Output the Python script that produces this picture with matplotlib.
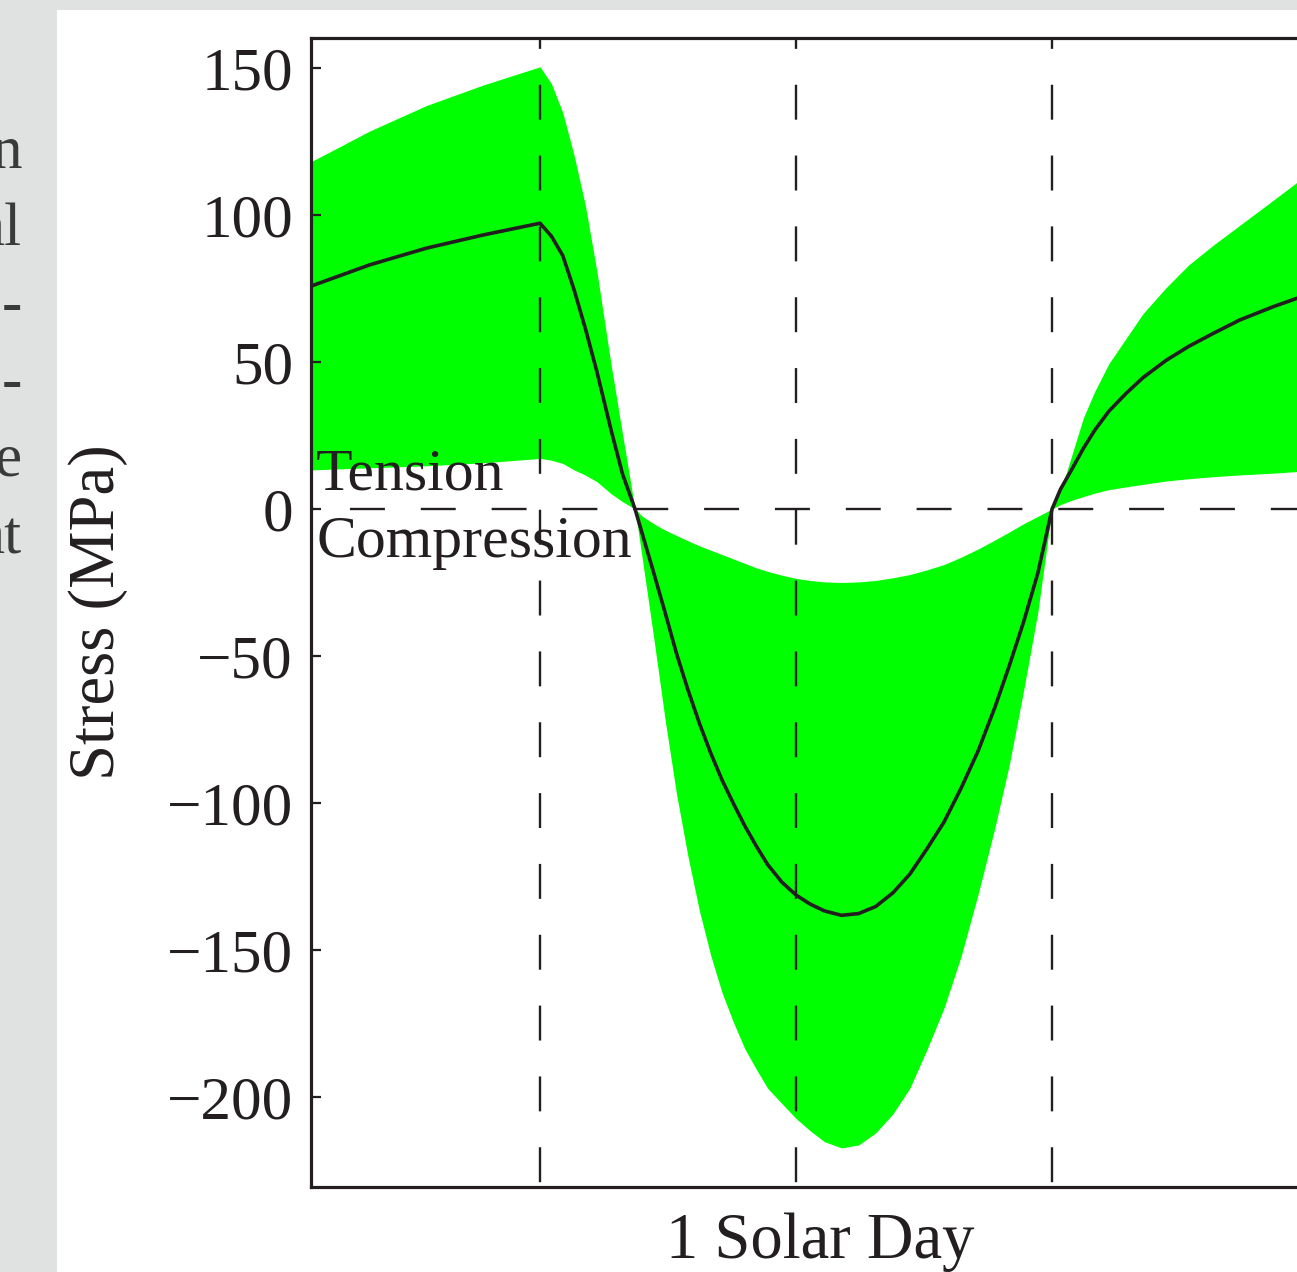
"""Diurnal stress cycle over one solar day with min/max envelope."""

import matplotlib.pyplot as plt
from matplotlib.patches import Rectangle

# Orbital position (degrees of one solar day)
angle_deg = [
    9.5, 30, 50, 70, 90, 94, 98, 102, 106, 110, 115, 119, 123.4,
    126, 130, 134, 138, 142, 146, 150, 154, 158, 162, 166, 170, 175, 180, 185,
    190, 196, 202, 208, 214, 220, 226, 232, 238, 244, 250, 255, 260, 265, 270,
    273, 277, 281, 285, 290, 296, 302, 310, 318, 327, 336, 348, 360,
]

# Mean stress (MPa)
stress_mean = [
    75.8, 83.0, 88.7, 93.2, 97.2, 92.8, 86.2, 74.5, 61.2, 46.7, 26.8, 11.9, 0.0,
    -8.6, -21.8, -35.3, -49.2, -61.5, -72.8, -83.0, -92.2, -100.2, -107.8, -114.6, -120.9, -126.9, -131.3, -134.4,
    -136.7, -138.2, -137.6, -135.2, -130.6, -124.2, -115.6, -106.5, -95.0, -82.3, -67.2, -53.2, -38.4, -21.8, 0.0,
    6.8, 13.6, 20.6, 26.8, 33.3, 39.3, 44.7, 50.5, 55.3, 59.9, 64.3, 68.9, 73.0,
]

# Upper edge of the stress range (MPa)
stress_max = [
    118.1, 128.5, 137.2, 144.2, 150.4, 144.7, 134.8, 120.2, 103.0, 80.8, 49.0, 25.5, 0.0,
    -2.5, -5.0, -7.2, -9.0, -10.8, -12.5, -14.0, -15.5, -17.0, -18.5, -20.0, -21.2, -22.5, -23.6, -24.3,
    -24.8, -25.0, -24.8, -24.3, -23.4, -22.3, -20.7, -18.9, -16.4, -13.6, -10.5, -7.8, -5.0, -2.5, 0.0,
    6.0, 18.5, 31.0, 40.0, 49.5, 58.0, 66.5, 75.2, 83.0, 90.0, 96.5, 105.2, 114.0,
]

# Lower edge of the stress range (MPa)
stress_min = [
    13.3, 14.0, 14.7, 15.7, 17.2, 16.6, 15.5, 13.3, 11.5, 9.3, 5.2, 2.5, 0.0,
    -17.2, -44.0, -71.8, -97.0, -118.1, -136.5, -151.8, -164.5, -174.6, -183.6, -190.5, -197.0, -202.2, -207.3, -211.5,
    -215.2, -217.3, -216.3, -212.2, -205.8, -197.0, -183.9, -169.8, -152.2, -131.0, -108.0, -86.8, -61.7, -35.1, 0.0,
    1.5, 3.0, 4.2, 5.4, 6.6, 7.5, 8.4, 9.5, 10.3, 11.0, 11.6, 12.2, 13.0,
]

quarter_marks = [90, 180, 270]
y_ticks = [-200, -150, -100, -50, 0, 50, 100, 150]

# cut-off words from the neighbouring column of the page
margin_words = ["n", "al", "-", "-", "e", "at"]

INK = "#231f20"
FONT = "Liberation Serif"
FS_TICK = 44
FS_NOTE = 43
FS_LABEL = 46.5

plt.rcParams["font.family"] = [FONT, "DejaVu Serif"]

W, H = 1297, 1272
fig = plt.figure(figsize=(W / 100, H / 100), dpi=100, facecolor="#e0e2e2")
fig.patches.append(Rectangle((57 / W, 0), 1, 1 - 10 / H, transform=fig.transFigure,
                             facecolor="white", edgecolor="none", zorder=-5))

for i, word in enumerate(margin_words):
    base = 168 + 77 * i
    fig.text(22 / W, 1 - base / H, word, ha="right", va="baseline",
             fontsize=FS_TICK, color="#3a3a3a")

ax = fig.add_axes([311 / W, 85 / H, 1019 / W, 1149 / H])
ax.set_xlim(9.5, 367.7)
ax.set_ylim(-230.6, 160.2)

ax.fill_between(angle_deg, stress_min, stress_max, color="#00ff00", lw=0, zorder=1)

y_top, y_bot = ax.get_ylim()[1], ax.get_ylim()[0]
for xq in quarter_marks:
    ax.plot([xq, xq], [y_top, y_bot], color=INK, lw=1.7,
            linestyle=(10.2, (14.8, 15.2)), zorder=2)
ax.plot(ax.get_xlim(), [0, 0], color=INK, lw=1.7,
        linestyle=(13.5, (14.8, 15.2)), zorder=2)

ax.plot(angle_deg, stress_mean, color=INK, lw=2.6, zorder=3,
        solid_joinstyle="round")

ax.text(11.3, 6.5, "Tension", fontsize=FS_NOTE, color=INK, ha="left", va="baseline")
ax.text(11.3, -16.2, "Compression", fontsize=FS_NOTE, color=INK, ha="left", va="baseline")

ax.set_yticks(y_ticks)
ax.set_xticks([])
ax.tick_params(axis="y", direction="in", length=7, width=1.6, pad=13,
               labelsize=FS_TICK, colors=INK, right=False)
for side in ["left", "top", "bottom", "right"]:
    ax.spines[side].set_linewidth(2.3)
    ax.spines[side].set_color(INK)

ax.set_ylabel("Stress (MPa)", fontsize=FS_LABEL, color=INK)
ax.yaxis.set_label_coords(-0.1796, 0.5)
ax.set_xlabel("1 Solar Day", fontsize=FS_LABEL, color=INK)
ax.xaxis.set_label_coords(0.5, -0.0226)

fig.savefig("out.png", dpi=100, facecolor=fig.get_facecolor())
